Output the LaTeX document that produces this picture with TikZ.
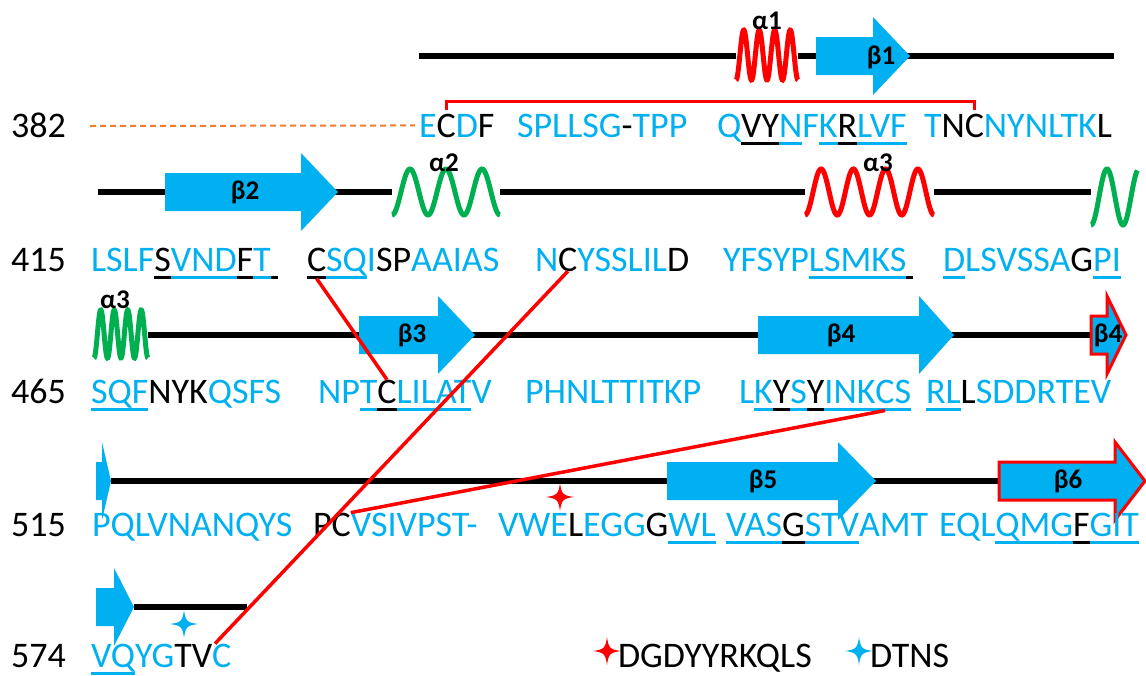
\documentclass[tikz,border=0pt]{standalone}
\usepackage{fontspec}
\setmainfont{Carlito}
\usetikzlibrary{calc}
\definecolor{sb}{HTML}{00B0F0}
\definecolor{sr}{HTML}{FF0000}
\definecolor{sg}{HTML}{00B050}
\definecolor{so}{HTML}{ED7D31}
\newsavebox\ulbox
\newcommand\ulin[2]{\sbox\ulbox{#2}\rlap{\color{#1}\rule[-7.5pt]{\wd\ulbox}{2.5pt}}\usebox\ulbox}
\newcommand\cB[1]{\textcolor{sb}{#1}}
\newcommand\cK[1]{\textcolor{black}{#1}}
\newcommand\uB[1]{\ulin{sb}{\textcolor{sb}{#1}}}
\newcommand\uK[1]{\ulin{black}{\textcolor{black}{#1}}}
% strand: [style] x0, head base, tip, y
\newcommand\strand[5][]{\fill[sb,#1] (#2,#5-19) -- (#3,#5-19) -- (#3,#5-39) -- (#4,#5) -- (#3,#5+39) -- (#3,#5+19) -- (#2,#5+19) -- cycle;}
% helix: colour, x0, period, yc, periods, amplitude
\newcommand\helix[6]{\draw[#1,line width=5pt] plot[domain=0:#5,samples=150,smooth,variable=\t] ({#2+\t*#3},{#4+#6*cos(360*\t)});}
\newcommand\sparkle[3]{\fill[#1] (#2,#3-14) .. controls (#2+1.5,#3-3) and (#2+3,#3-1.5) .. (#2+14,#3)
  .. controls (#2+3,#3+1.5) and (#2+1.5,#3+3) .. (#2,#3+14)
  .. controls (#2-1.5,#3+3) and (#2-3,#3+1.5) .. (#2-14,#3)
  .. controls (#2-3,#3-1.5) and (#2-1.5,#3-3) .. (#2,#3-14) -- cycle;}
\tikzset{
  seq/.style={anchor=base west, inner sep=0pt, outer sep=0pt, font=\fontsize{36}{40}\selectfont},
  lab/.style={inner sep=0pt, font=\fontsize{27}{30}\selectfont\bfseries},
  bb/.style={black, line width=5.5pt},
  link/.style={sr, line width=3.5pt},
  outl/.style={draw=sr, line width=3pt},
}
\begin{document}
\begin{tikzpicture}[x=1pt,y=-1pt]
\useasboundingbox (0,0) rectangle (1146,675);
% ---------- backbones ----------
\draw[bb] (419,56) -- (736,56);
\draw[bb] (798,56) -- (1114,56);
\draw[bb] (98,192) -- (392,192);
\draw[bb] (500,192) -- (805,192);
\draw[bb] (934,192) -- (1091,192);
\draw[bb] (148,335) -- (1091,335);
\draw[bb] (111,481) -- (999,481);
\draw[bb] (134,607) -- (247,607);
% ---------- strands ----------
\strand{816}{873}{910}{56}
\strand{165}{301}{338}{192}
\strand{359}{438}{475}{335}
\strand{758}{919}{954}{335}
\strand[outl]{1091}{1107}{1126}{335}
\strand{96}{102}{111}{481}
\strand{667}{838}{876}{481}
\strand[outl]{999}{1115}{1145}{481}
\strand{96}{114}{134}{607}
% ---------- helices ----------
\helix{sr}{736}{15.5}{55}{4}{25}
\helix{sg}{392}{36}{192}{3}{23}
\helix{sr}{805}{32.25}{192}{4}{23}
\helix{sg}{1091}{32}{197}{1.45}{28}
\helix{sg}{94}{13.5}{334}{4}{24}
% ---------- element labels ----------
\node[lab] (a1) at (767,21) {α1};
\node[lab] (b1) at (881,57) {β1};
\node[lab] (b2) at (245,192) {β2};
\node[lab] (a2) at (444,163) {α2};
\node[lab] (a3) at (878,163) {α3};
\node[lab] (a3b) at (115,300) {α3};
\node[lab] (b3) at (412,335) {β3};
\node[lab] (b4) at (841,335) {β4};
\node[lab] (b4b) at (1108,335) {β4};
\node[lab] (b5) at (763,481) {β5};
\node[lab] (b6) at (1068,481) {β6};
% ---------- row 382 ----------
\node[seq] (n382) at (11,137) {382};
\node[seq] (r1a) at (419,137) {\cB{E}};
\node[seq] (c382a) at (r1a.base east) {\cK{C}};
\node[seq] (r1b) at (c382a.base east) {\cB{D}\cK{F}};
\node[seq] (r1c) at (517,137) {\cB{SPLLSG}\cK{-}\cB{TPP}};
\node[seq] (r1d) at (717,137) {\cB{Q}\uK{VY}\uB{N}\cB{F}\uB{K}\uK{R}\uB{LVF}};
\node[seq] (r1e) at (924,137) {\cB{T}\cK{N}};
\node[seq] (c382b) at (r1e.base east) {\cK{C}};
\node[seq] (r1f) at (c382b.base east) {\cB{NYNLTK}\cK{L}};
\coordinate (dstart) at (90,126);
\draw[so, line width=2pt, dash pattern=on 6pt off 4pt] (dstart) -- ([xshift=-4pt]r1a.west);
\draw[sr, line width=3pt] ([yshift=4pt]c382a.north) -- ++(0,-8) -| ([yshift=4pt]c382b.north);
% ---------- row 415 ----------
\node[seq] (n415) at (11,271) {415};
\node[seq] (r2a) at (91,271) {\cB{LSLF}\uK{S}\uB{VND}\uK{F}\uB{T}\uK{\hspace*{7pt}}};
\node[seq] (c415a) at (307,271) {\uK{C}};
\node[seq] (r2b) at (c415a.base east) {\uB{SQ}\cB{I}\cK{SP}\cB{AAIAS}};
\node[seq] (r2c) at (535,271) {\cB{N}};
\node[seq] (c415b) at (r2c.base east) {\cK{C}};
\node[seq] (r2d) at (c415b.base east) {\cB{YSSLIL}\cK{D}};
\node[seq] (r2e) at (723,271) {\cB{YFSYP}\uB{LSMKS}\uK{\hspace*{7pt}}};
\node[seq] (r2f) at (943,271) {\uB{D}\cB{LSVSSA}\cK{G}\uB{PI}};
% ---------- row 465 ----------
\node[seq] (n465) at (11,403) {465};
\node[seq] (r3a) at (91,403) {\uB{SQF}\cK{NYK}\cB{QSFS}};
\node[seq] (r3b) at (318,403) {\cB{NP}\uB{T}};
\node[seq] (c465a) at (r3b.base east) {\uK{C}};
\node[seq] (r3c) at (c465a.base east) {\uB{LILAT}\cB{V}};
\node[seq] (r3d) at (525,403) {\cB{PHNLTTITKP}};
\node[seq] (r3e) at (739,403) {\cB{L}\uB{K}\uK{Y}\uB{S}\uK{Y}\uB{INK}};
\node[seq] (c465b) at (r3e.base east) {\uB{C}};
\node[seq] (r3f) at (c465b.base east) {\uB{S}};
\node[seq] (r3g) at (926,403) {\uB{RL}\cK{L}\cB{SDDRTEV}};
% ---------- row 515 ----------
\node[seq] (n515) at (11,536) {515};
\node[seq] (r4a) at (92,536) {\cB{PQLVNANQYS}};
\node[seq] (r4b) at (313,536) {\cK{P}};
\node[seq] (c515) at (r4b.base east) {\cK{C}};
\node[seq] (r4c) at (c515.base east) {\cB{VSIVPST-}};
\node[seq] (r4d) at (498,536) {\cB{VWE}\cK{L}\cB{EGG}\cK{G}\uB{WL}};
\node[seq] (r4e) at (726,536) {\uB{VAS}\uK{G}\uB{STV}\cB{AMT}};
\node[seq] (r4f) at (939,536) {\cB{EQL}\uB{QMG}\uK{F}\uB{GIT}};
\sparkle{sr}{560}{497}
% ---------- row 574 ----------
\node[seq] (n574) at (11,667) {574};
\node[seq] (r5a) at (91,667) {\uB{VQ}\cB{YG}\cK{TV}};
\node[seq] (c574) at (r5a.base east) {\cB{C}};
\sparkle{sb}{184}{624}
% ---------- legend ----------
\sparkle{sr}{607}{651}
\node[seq] (leg1) at (618,667) {\cK{DGDYYRKQLS}};
\sparkle{sb}{859}{651}
\node[seq] (leg2) at (870,667) {\cK{DTNS}};
% ---------- disulfide links ----------
\draw[link] (c415a.south) -- (c465a.north);
\draw[link] (c415b.south) -- (c574.120);
\draw[link] (c465b.south) -- (c515.north east);
\end{tikzpicture}
\end{document}
